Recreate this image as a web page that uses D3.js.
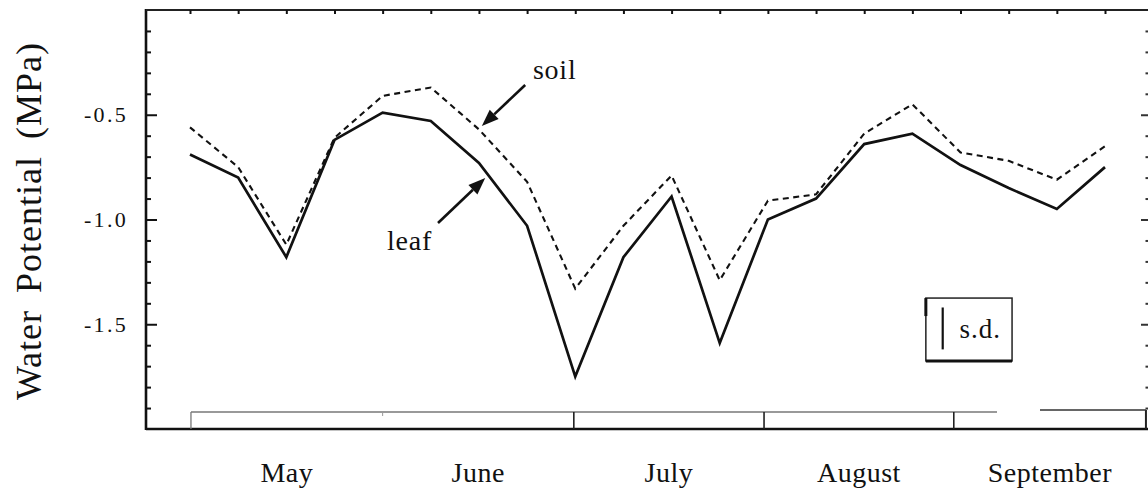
<!DOCTYPE html>
<html>
<head>
<meta charset="utf-8">
<script src="https://cdn.jsdelivr.net/npm/d3@7"></script>
<style>
  html, body { margin: 0; padding: 0; background: #fff; }
  svg { display: block; }
  text { font-family: "Liberation Serif", "Times New Roman", serif; fill: #111; }
</style>
</head>
<body>
<svg id="chart" width="1148" height="495"></svg>
<script>
// Sampling dates, May through September (index of each sample)
const samples = d3.range(20);

// Leaf and soil water potential (MPa) at each sample
const leaf = [-0.69, -0.80, -1.18, -0.62, -0.49, -0.53, -0.73, -1.03, -1.75, -1.18,
              -0.89, -1.59, -1.00, -0.90, -0.64, -0.59, -0.74, -0.85, -0.95, -0.75];
const soil = [-0.56, -0.75, -1.12, -0.61, -0.41, -0.37, -0.57, -0.82, -1.33, -1.03,
              -0.79, -1.29, -0.91, -0.88, -0.59, -0.45, -0.68, -0.72, -0.81, -0.65];

// Month bands (edges expressed in sample-index units)
const months = ["May", "June", "July", "August", "September"];
const monthEdges = [0.02, 4.0, 7.97, 11.92, 15.86, 19.85];

// Y ticks
const yMajorTicks = [-0.5, -1.0, -1.5];
const yTickLabels = ["-0.5", "-1.0", "-1.5"];
const yMinorTicks = d3.range(1, 20).map(d => -d / 10);

// Standard deviation shown in the key box
const sdValue = 0.2;

const svg = d3.select("#chart");
const frame = { left: 146, right: 1148, top: 10, bottom: 429 };

const x = d3.scaleLinear().domain([0, 19]).range([190, 1105]);
const y = d3.scaleLinear().domain([-2, 0]).range([frame.bottom, frame.top]);

// Frame lines (left, top, bottom)
svg.append("line").attr("x1", frame.left).attr("x2", frame.left)
  .attr("y1", frame.top - 1).attr("y2", frame.bottom + 1)
  .attr("stroke", "#111").attr("stroke-width", 2.6);
svg.append("line").attr("x1", frame.left).attr("x2", frame.right)
  .attr("y1", frame.top).attr("y2", frame.top)
  .attr("stroke", "#222").attr("stroke-width", 2);
svg.append("line").attr("x1", frame.left).attr("x2", frame.right)
  .attr("y1", frame.bottom).attr("y2", frame.bottom)
  .attr("stroke", "#111").attr("stroke-width", 2.4);

// Left axis: minor and major ticks point inward
const leftMinor = svg.append("g").attr("transform", `translate(${frame.left},0)`)
  .call(d3.axisLeft(y).tickValues(yMinorTicks.filter(v => !yMajorTicks.includes(v)))
    .tickSize(-5).tickSizeOuter(0).tickFormat(""));
const leftMajor = svg.append("g").attr("transform", `translate(${frame.left},0)`)
  .call(d3.axisLeft(y).tickValues(yMajorTicks).tickSize(-11).tickSizeOuter(0)
    .tickPadding(18).tickFormat((d, i) => yTickLabels[i]));
[leftMinor, leftMajor].forEach(g => {
  g.select(".domain").remove();
  g.selectAll(".tick line").attr("stroke", "#111").attr("stroke-width", 2);
});
leftMajor.selectAll(".tick text")
  .attr("font-family", "Liberation Serif, serif")
  .attr("font-size", 22).attr("letter-spacing", 2.3).attr("fill", "#222");

// Right axis ticks (inward)
const rightMinor = svg.append("g").attr("transform", `translate(${frame.right},0)`)
  .call(d3.axisRight(y).tickValues(yMinorTicks.filter(v => !yMajorTicks.includes(v)))
    .tickSize(-2.5).tickSizeOuter(0).tickFormat(""));
const rightMajor = svg.append("g").attr("transform", `translate(${frame.right},0)`)
  .call(d3.axisRight(y).tickValues(yMajorTicks).tickSize(-7).tickSizeOuter(0).tickFormat(""));
[rightMinor, rightMajor].forEach(g => {
  g.select(".domain").remove();
  g.selectAll(".tick line").attr("stroke", "#333").attr("stroke-width", 2);
});

// Top axis ticks at each sampling date
const topAxis = svg.append("g").attr("transform", `translate(0,${frame.top})`)
  .call(d3.axisTop(x).tickValues(samples).tickSize(-4).tickSizeOuter(0).tickFormat(""));
topAxis.select(".domain").remove();
topAxis.selectAll(".tick line").attr("stroke", "#111").attr("stroke-width", 2);

// Month strip along the bottom
const stripTop = frame.bottom - 17;
svg.append("line")
  .attr("x1", x(monthEdges[0])).attr("x2", 997)
  .attr("y1", stripTop).attr("y2", stripTop)
  .attr("stroke", "#777").attr("stroke-width", 1.3);
svg.append("line")
  .attr("x1", x(monthEdges[0])).attr("x2", x(monthEdges[0]))
  .attr("y1", stripTop).attr("y2", frame.bottom)
  .attr("stroke", "#777").attr("stroke-width", 1.3);
svg.append("line")
  .attr("x1", x(monthEdges[1])).attr("x2", x(monthEdges[1]))
  .attr("y1", stripTop).attr("y2", stripTop + 4)
  .attr("stroke", "#999").attr("stroke-width", 1);
svg.selectAll("line.month-edge")
  .data(monthEdges.slice(2, 5))
  .enter().append("line").attr("class", "month-edge")
  .attr("x1", d => x(d)).attr("x2", d => x(d))
  .attr("y1", stripTop).attr("y2", frame.bottom)
  .attr("stroke", "#222").attr("stroke-width", 1.6);
svg.append("line")
  .attr("x1", x(monthEdges[5])).attr("x2", x(monthEdges[5]))
  .attr("y1", stripTop - 2).attr("y2", frame.bottom)
  .attr("stroke", "#222").attr("stroke-width", 2);
svg.append("line")
  .attr("x1", 1040).attr("x2", x(monthEdges[5]))
  .attr("y1", stripTop - 2).attr("y2", stripTop - 2)
  .attr("stroke", "#333").attr("stroke-width", 1.6);

// Month labels centred in each band
svg.selectAll("text.month")
  .data(months)
  .enter().append("text").attr("class", "month")
  .attr("x", (d, i) => x((monthEdges[i] + monthEdges[i + 1]) / 2))
  .attr("y", 482)
  .attr("text-anchor", "middle")
  .attr("font-size", 28).attr("letter-spacing", 0.5)
  .text(d => d);

// Y axis title
svg.append("text")
  .attr("transform", "translate(41,221) rotate(-90)")
  .attr("text-anchor", "middle")
  .attr("font-size", 36).attr("letter-spacing", 1).attr("word-spacing", 7)
  .attr("fill", "#222")
  .text("Water Potential (MPa)");

// Series lines
const line = d3.line().x((d, i) => x(samples[i])).y(d => y(d));
svg.append("path").datum(soil)
  .attr("d", line).attr("fill", "none")
  .attr("stroke", "#111").attr("stroke-width", 2.1)
  .attr("stroke-dasharray", "6,4.5");
svg.append("path").datum(leaf)
  .attr("d", line).attr("fill", "none")
  .attr("stroke", "#111").attr("stroke-width", 2.7)
  .attr("stroke-linejoin", "miter");

// Annotation arrows
function arrow(from, to) {
  const x1 = x(from[0]), y1 = y(from[1]), x2 = x(to[0]), y2 = y(to[1]);
  const a = Math.atan2(y2 - y1, x2 - x1);
  const len = 17, half = 6.5;
  const bx = x2 - len * Math.cos(a), by = y2 - len * Math.sin(a);
  svg.append("line").attr("x1", x1).attr("y1", y1).attr("x2", bx).attr("y2", by)
    .attr("stroke", "#111").attr("stroke-width", 2.6);
  svg.append("path")
    .attr("d", `M${x2},${y2} L${bx + half * Math.sin(a)},${by - half * Math.cos(a)} ` +
               `L${bx - half * Math.sin(a)},${by + half * Math.cos(a)} Z`)
    .attr("fill", "#111");
}
arrow([6.96, -0.358], [6.06, -0.554]);
arrow([5.15, -1.017], [6.13, -0.802]);

svg.append("text").attr("x", x(7.12)).attr("y", y(-0.329))
  .attr("font-size", 28).attr("letter-spacing", 0.8).text("soil");
svg.append("text").attr("x", x(4.09)).attr("y", y(-1.146))
  .attr("font-size", 28).attr("letter-spacing", 0.8).text("leaf");

// s.d. key box
const boxX0 = x(15.28), boxX1 = x(17.07), boxY0 = y(-1.375), boxY1 = y(-1.675);
svg.append("rect")
  .attr("x", boxX0).attr("y", boxY0)
  .attr("width", boxX1 - boxX0).attr("height", boxY1 - boxY0)
  .attr("fill", "none").attr("stroke", "#222").attr("stroke-width", 1.5);
svg.append("line")
  .attr("x1", boxX0).attr("x2", boxX1).attr("y1", boxY1).attr("y2", boxY1)
  .attr("stroke", "#111").attr("stroke-width", 3);
svg.append("line")
  .attr("x1", boxX0).attr("x2", boxX0).attr("y1", boxY0).attr("y2", boxY0 + 18)
  .attr("stroke", "#111").attr("stroke-width", 3);
const sdTop = -1.42;
svg.append("line")
  .attr("x1", x(15.63)).attr("x2", x(15.63))
  .attr("y1", y(sdTop)).attr("y2", y(sdTop - sdValue))
  .attr("stroke", "#111").attr("stroke-width", 2.2);
svg.append("text").attr("x", x(15.98)).attr("y", y(-1.565))
  .attr("font-size", 27).attr("letter-spacing", 1).text("s.d.");
</script>
</body>
</html>
